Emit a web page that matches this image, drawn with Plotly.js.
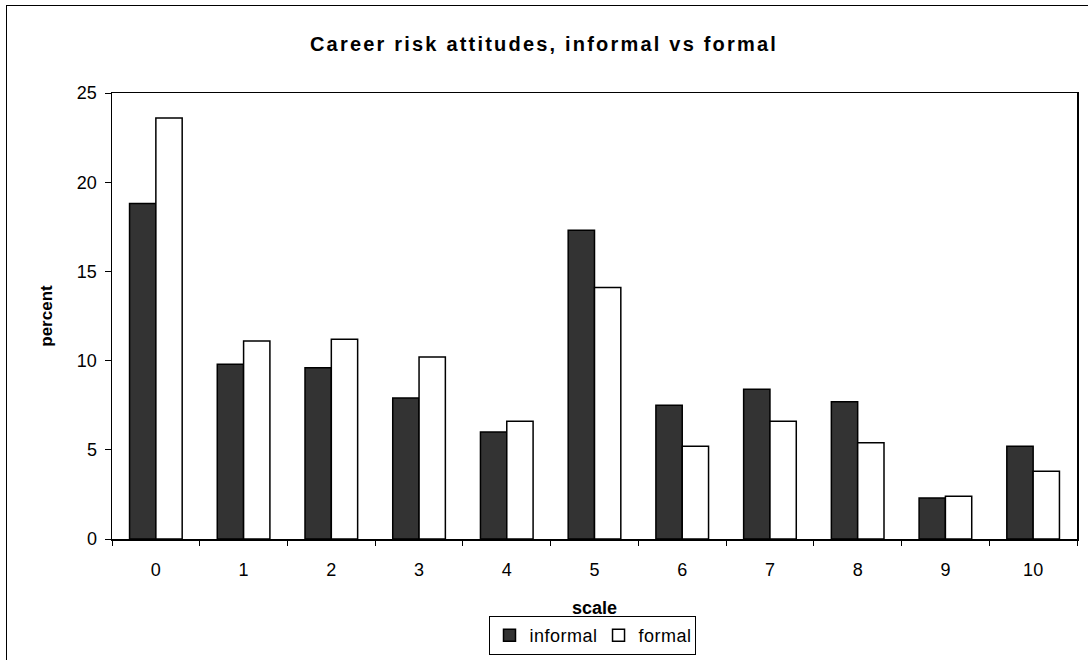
<!DOCTYPE html>
<html>
<head>
<meta charset="utf-8">
<script src="https://cdn.plot.ly/plotly-3.0.1.min.js"></script>
<style>
  html, body { margin: 0; padding: 0; background: #fff; overflow: hidden; }
  #frame { position: absolute; left: 6px; top: 5px; width: 1200px; height: 800px; border: 1.5px solid #000; box-sizing: border-box; }
  #chart { position: absolute; left: 0; top: 0; width: 1088px; height: 660px; }
  #chart .gtitle { letter-spacing: 2.2px; }
  #chart .legendtext { letter-spacing: 0.5px; }
</style>
</head>
<body>
<div id="frame"></div>
<div id="chart"></div>
<script>
const categories = ["0", "1", "2", "3", "4", "5", "6", "7", "8", "9", "10"];
const informal = [18.8, 9.8, 9.6, 7.9, 6.0, 17.3, 7.5, 8.4, 7.7, 2.3, 5.2];
const formal = [23.6, 11.1, 11.2, 10.2, 6.6, 14.1, 5.2, 6.6, 5.4, 2.4, 3.8];
const yTicks = [0, 5, 10, 15, 20, 25];

const font = "Liberation Sans, Arial, sans-serif";

const traces = [
  {
    type: "bar", name: "informal", x: categories, y: informal,
    marker: { color: "#333333", line: { color: "#000000", width: 1.5 } }
  },
  {
    type: "bar", name: "formal", x: categories, y: formal,
    marker: { color: "#ffffff", line: { color: "#000000", width: 1.5 } }
  }
];

const layout = {
  width: 1088, height: 660,
  paper_bgcolor: "rgba(0,0,0,0)", plot_bgcolor: "#ffffff",
  margin: { l: 112, r: 11, t: 93, b: 121, autoexpand: false },
  font: { family: font, color: "#000", size: 18 },
  title: { text: "<b>Career risk attitudes, informal vs formal</b>", font: { family: font, size: 20, color: "#000" }, x: 0.5, xanchor: "center", y: 1 - 44 / 660, yanchor: "middle" },
  barmode: "group", bargap: 0.4, bargroupgap: 0,
  showlegend: true,
  legend: {
    orientation: "h", x: (592 - 112) / 965, xanchor: "center", y: -(616 - 539) / 446, yanchor: "top",
    bordercolor: "#000", borderwidth: 1, bgcolor: "#fff",
    font: { family: font, size: 18, color: "#000" }, itemwidth: 30, tracegroupgap: 0
  },
  xaxis: {
    type: "category", tickvals: categories, ticktext: categories,
    automargin: false,
    showline: true, linecolor: "#000", linewidth: 1.5, mirror: true,
    ticks: "outside", ticklen: 5, tickcolor: "#000", tickwidth: 1, tickson: "boundaries",
    ticklabelstandoff: 14,
    showgrid: false, zeroline: false,
    tickfont: { family: font, size: 18, color: "#000" },
    title: { text: "<b>scale</b>", font: { family: font, size: 18, color: "#000" }, standoff: 22 }
  },
  yaxis: {
    range: [0, 25], tickvals: yTicks, ticktext: yTicks.map(String),
    automargin: false,
    showline: true, linecolor: "#000", linewidth: 1.5, mirror: true,
    ticks: "outside", ticklen: 6, tickcolor: "#000", tickwidth: 1,
    ticklabelstandoff: 4,
    showgrid: false, zeroline: false,
    tickfont: { family: font, size: 18, color: "#000" },
    title: { text: "<b>percent</b>", font: { family: font, size: 17, color: "#000" }, standoff: 20 }
  }
};

Plotly.newPlot("chart", traces, layout, { displayModeBar: false, staticPlot: true });
</script>
</body>
</html>
